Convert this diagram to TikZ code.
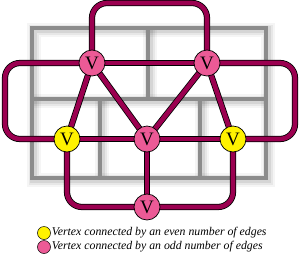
\documentclass[tikz,border=0pt]{standalone}
\usepackage{fontspec}
\setmainfont{Liberation Serif}
\usetikzlibrary{positioning, backgrounds}
\definecolor{edgered}{RGB}{155,0,80}
\definecolor{oddpink}{RGB}{236,90,150}
\definecolor{evenyellow}{RGB}{255,242,0}
\definecolor{wallgrey}{RGB}{140,140,140}

\tikzset{
  vertex/.style={circle, draw=black, line width=0.7pt, minimum size=26pt,
                 inner sep=0pt, font=\fontsize{19}{19}\selectfont},
  odd/.style={vertex, fill=oddpink},
  even/.style={vertex, fill=evenyellow},
  edge/.style={draw=black, line width=0.8pt, double=edgered,
               double distance=4.6pt, rounded corners=15pt},
  wall/.style={wallgrey, line width=4pt, line cap=rect},
  key/.style={circle, draw=black, line width=0.5pt, minimum size=13pt, inner sep=0pt},
  keytext/.style={right, inner sep=1pt, font=\fontsize{11.8}{13}\selectfont\itshape}
}

\begin{document}
\begin{tikzpicture}[x=1pt, y=-1pt]
  \useasboundingbox (0,0) rectangle (300,255);

  % Brick wall with soft shadow
  \begin{scope}[on background layer]
    \foreach \w/\o in {14/0.04, 10/0.06, 7/0.08} {
      \begin{scope}[shift={(1.5,1.5)}, black, opacity=\o, line width=\w pt]
        \draw (32,28) rectangle (266,178);
        \draw (32,99) -- (266,99);
        \draw (148,28) -- (148,99);
        \draw (100,99) -- (100,178);
        \draw (200,99) -- (200,178);
      \end{scope}
    }
    \draw[wall] (32,28) rectangle (266,178);
    \draw[wall] (32,99) -- (266,99);
    \draw[wall] (148,28) -- (148,99);
    \draw[wall] (100,99) -- (100,178);
    \draw[wall] (200,99) -- (200,178);
  \end{scope}

  % Vertices
  \node[odd] (tl) at (92,63) {V};
  \node[odd] (tr) at (207,63) {V};
  \node[even] (yl) at (67,139) {V};
  \node[odd] (mp) at (147,139) {V};
  \node[even] (yr) at (233,139) {V};
  \node[odd] (bp) at (147,207) {V};

  \coordinate (archtop) at (150,3);
  \coordinate (lloop) at (5,100);
  \coordinate (rloop) at (295,100);

  % Edges
  \begin{scope}[on background layer]
    \draw[edge] (tl.center) |- (archtop) -| (tr.center);
    \draw[edge] (tl.center) -| (lloop) |- (yl.center);
    \draw[edge] (tr.center) -| (rloop) |- (yr.center);
    \draw[edge] (yl.center) |- (bp.center) -| (yr.center);
    \draw[edge] (tl.center) -- (tr.center);
    \draw[edge] (yl.center) -- (mp.center) -- (yr.center);
    \draw[edge] (tl.center) -- (yl.center);
    \draw[edge] (tl.center) -- (mp.center);
    \draw[edge] (tr.center) -- (mp.center);
    \draw[edge] (tr.center) -- (yr.center);
    \draw[edge] (mp.center) -- (bp.center);
  \end{scope}

  % Legend
  \node[key, fill=evenyellow] (evenkey) at (44,233) {};
  \node[keytext] at (evenkey.east) {Vertex connected by an even number of edges};
  \node[key, fill=oddpink] (oddkey) at (44,247) {};
  \node[keytext] at (oddkey.east) {Vertex connected by an odd number of edges};
\end{tikzpicture}
\end{document}
